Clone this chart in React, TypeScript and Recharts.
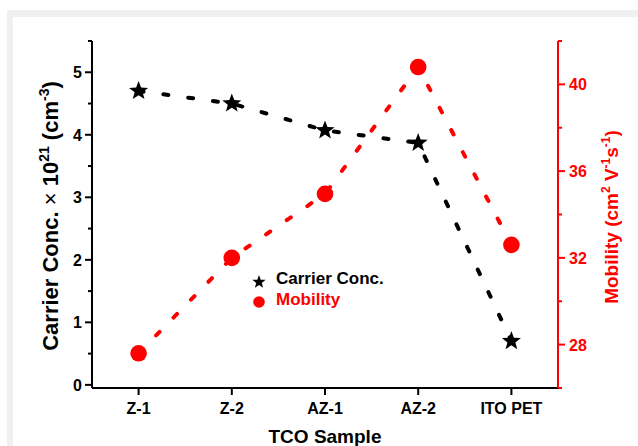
import React from 'react';
import { ComposedChart, Line, XAxis, YAxis } from 'recharts';

const categories = ['Z-1', 'Z-2', 'AZ-1', 'AZ-2', 'ITO PET'];
const carrierConc = [4.7, 4.5, 4.07, 3.87, 0.7];
const mobility = [27.6, 32.0, 34.95, 40.8, 32.6];
const leftTicks = [0, 0.5, 1, 1.5, 2, 2.5, 3, 3.5, 4, 4.5, 5, 5.5];
const leftLabeled = [0, 1, 2, 3, 4, 5];
const rightTicks = [26, 28, 30, 32, 34, 36, 38, 40, 42];
const rightLabeled = [28, 32, 36, 40];

const data = categories.map((name, i) => ({ name, carrier: carrierConc[i], mobility: mobility[i] }));

const W = 638;
const H = 446;
const PLOT_LEFT = 92;
const PLOT_RIGHT = 558;
const PLOT_TOP = 41;
const PLOT_BOTTOM = 388;
const HALF_BAND = (PLOT_RIGHT - PLOT_LEFT) / categories.length / 2;
const RED = '#ff0000';
const FONT = '"Liberation Sans", Arial, Helvetica, sans-serif';

const starPoints = (cx: number, cy: number, R: number, r: number) => {
  const pts: string[] = [];
  for (let i = 0; i < 10; i++) {
    const ang = -Math.PI / 2 + (i * Math.PI) / 5;
    const rad = i % 2 === 0 ? R : r;
    pts.push(`${(cx + rad * Math.cos(ang)).toFixed(2)},${(cy + rad * Math.sin(ang)).toFixed(2)}`);
  }
  return pts.join(' ');
};

const StarDot = (p: any) => {
  if (p.cx == null || p.cy == null) return <g key={p.index} />;
  return <polygon key={p.index} points={starPoints(p.cx, p.cy, 10, 4.2)} fill="#000" />;
};

const CircleDot = (p: any) => {
  if (p.cx == null || p.cy == null) return <g key={p.index} />;
  return <circle key={p.index} cx={p.cx} cy={p.cy} r={8.3} fill={RED} />;
};

const LeftTick = (props: any) => {
  const { y, payload } = props;
  const v = payload.value;
  const major = leftLabeled.includes(v);
  return (
    <g>
      <line x1={PLOT_LEFT - (major ? 7 : 4)} x2={PLOT_LEFT} y1={y} y2={y} stroke="#000" strokeWidth={2} />
      {major && (
        <text x={PLOT_LEFT - 10} y={y + 6} textAnchor="end" fontSize={16} fontWeight="bold" fill="#000" fontFamily={FONT}>
          {v}
        </text>
      )}
    </g>
  );
};

const RightTick = (props: any) => {
  const { y, payload } = props;
  const v = payload.value;
  const major = rightLabeled.includes(v);
  return (
    <g>
      <line x1={PLOT_RIGHT} x2={PLOT_RIGHT + (major ? 7 : 4)} y1={y} y2={y} stroke={RED} strokeWidth={2} />
      {major && (
        <text x={PLOT_RIGHT + 11} y={y + 6} textAnchor="start" fontSize={16} fontWeight="bold" fill={RED} fontFamily={FONT}>
          {v}
        </text>
      )}
    </g>
  );
};

const BottomTick = (props: any) => {
  const { x, payload } = props;
  return (
    <text x={x} y={PLOT_BOTTOM + 26} textAnchor="middle" fontSize={16} fontWeight="bold" fill="#000" fontFamily={FONT}>
      {payload.value}
    </text>
  );
};

const LeftTitle = () => (
  <text
    transform={`translate(58,216) rotate(-90)`}
    textAnchor="middle"
    fontSize={22}
    fontWeight="bold"
    fill="#000"
    fontFamily={FONT}
  >
    Carrier Conc. <tspan fontWeight="normal">×</tspan> 10
    <tspan dy={-9} fontSize={14}>21</tspan>
    <tspan dy={9}> (cm</tspan>
    <tspan dy={-9} fontSize={14}>-3</tspan>
    <tspan dy={9}>)</tspan>
  </text>
);

const RightTitle = () => (
  <text
    transform={`translate(618,217) rotate(-90)`}
    textAnchor="middle"
    fontSize={19}
    fontWeight="bold"
    fill={RED}
    fontFamily={FONT}
  >
    Mobility (cm
    <tspan dy={-8} fontSize={12}>2</tspan>
    <tspan dy={8}> V</tspan>
    <tspan dy={-8} fontSize={12}>-1</tspan>
    <tspan dy={8}>s</tspan>
    <tspan dy={-8} fontSize={12}>-1</tspan>
    <tspan dy={8}>)</tspan>
  </text>
);

const BottomTitle = () => (
  <text x={(PLOT_LEFT + PLOT_RIGHT) / 2} y={443} textAnchor="middle" fontSize={19} fontWeight="bold" fill="#000" fontFamily={FONT}>
    TCO Sample
  </text>
);

export default function App() {
  return (
    <div style={{ position: 'fixed', left: 0, top: 0, width: W, height: H, background: '#fff', overflow: 'hidden', fontFamily: FONT }}>
      <div style={{ position: 'absolute', left: 7, top: 10, width: W, height: H, background: '#f0f0f0' }} />
      <div style={{ position: 'absolute', left: 13, top: 17, width: W, height: H, background: '#fff' }} />
      <div style={{ position: 'absolute', left: 0, top: 0 }}>
        <ComposedChart width={W} height={H} data={data} margin={{ top: PLOT_TOP, right: 0, bottom: 0, left: 0 }}>
          <XAxis
            xAxisId="top"
            orientation="top"
            dataKey="name"
            height={0}
            padding={{ left: HALF_BAND, right: HALF_BAND }}
            tick={false}
            tickLine={false}
            axisLine={{ stroke: '#000', strokeWidth: 2 }}
          />
          <XAxis
            xAxisId="bottom"
            dataKey="name"
            height={H - PLOT_BOTTOM}
            padding={{ left: HALF_BAND, right: HALF_BAND }}
            tick={<BottomTick />}
            tickSize={7}
            tickLine={{ stroke: '#000', strokeWidth: 2 }}
            axisLine={{ stroke: '#000', strokeWidth: 2 }}
            label={<BottomTitle />}
            interval={0}
          />
          <YAxis
            yAxisId="left"
            orientation="left"
            width={PLOT_LEFT}
            domain={[-0.05, 5.5]}
            ticks={leftTicks}
            allowDataOverflow
            interval={0}
            tick={<LeftTick />}
            tickLine={false}
            axisLine={{ stroke: '#000', strokeWidth: 2 }}
            label={<LeftTitle />}
          />
          <YAxis
            yAxisId="right"
            orientation="right"
            width={W - PLOT_RIGHT}
            domain={[26, 42]}
            ticks={rightTicks}
            allowDataOverflow
            interval={0}
            tick={<RightTick />}
            tickLine={false}
            axisLine={{ stroke: RED, strokeWidth: 2 }}
            label={<RightTitle />}
          />
          <Line
            xAxisId="bottom"
            yAxisId="left"
            dataKey="carrier"
            type="linear"
            stroke="#000"
            strokeWidth={4}
            strokeDasharray="5 20"
            strokeLinecap="round"
            dot={StarDot}
            activeDot={false}
            isAnimationActive={false}
          />
          <Line
            xAxisId="bottom"
            yAxisId="right"
            dataKey="mobility"
            type="linear"
            stroke={RED}
            strokeWidth={4}
            strokeDasharray="5 20"
            strokeLinecap="round"
            dot={CircleDot}
            activeDot={false}
            isAnimationActive={false}
          />
        </ComposedChart>
      </div>
      <svg style={{ position: 'absolute', left: 0, top: 0 }} width={W} height={H} pointerEvents="none">
        <polygon points={starPoints(259, 282, 7, 2.9)} fill="#000" />
        <text x={276} y={284} fontSize={17} fontWeight="bold" fill="#000" fontFamily={FONT}>Carrier Conc.</text>
        <circle cx={259} cy={302} r={5.8} fill={RED} />
        <text x={276} y={305} fontSize={17} fontWeight="bold" fill={RED} fontFamily={FONT}>Mobility</text>
      </svg>
    </div>
  );
}
